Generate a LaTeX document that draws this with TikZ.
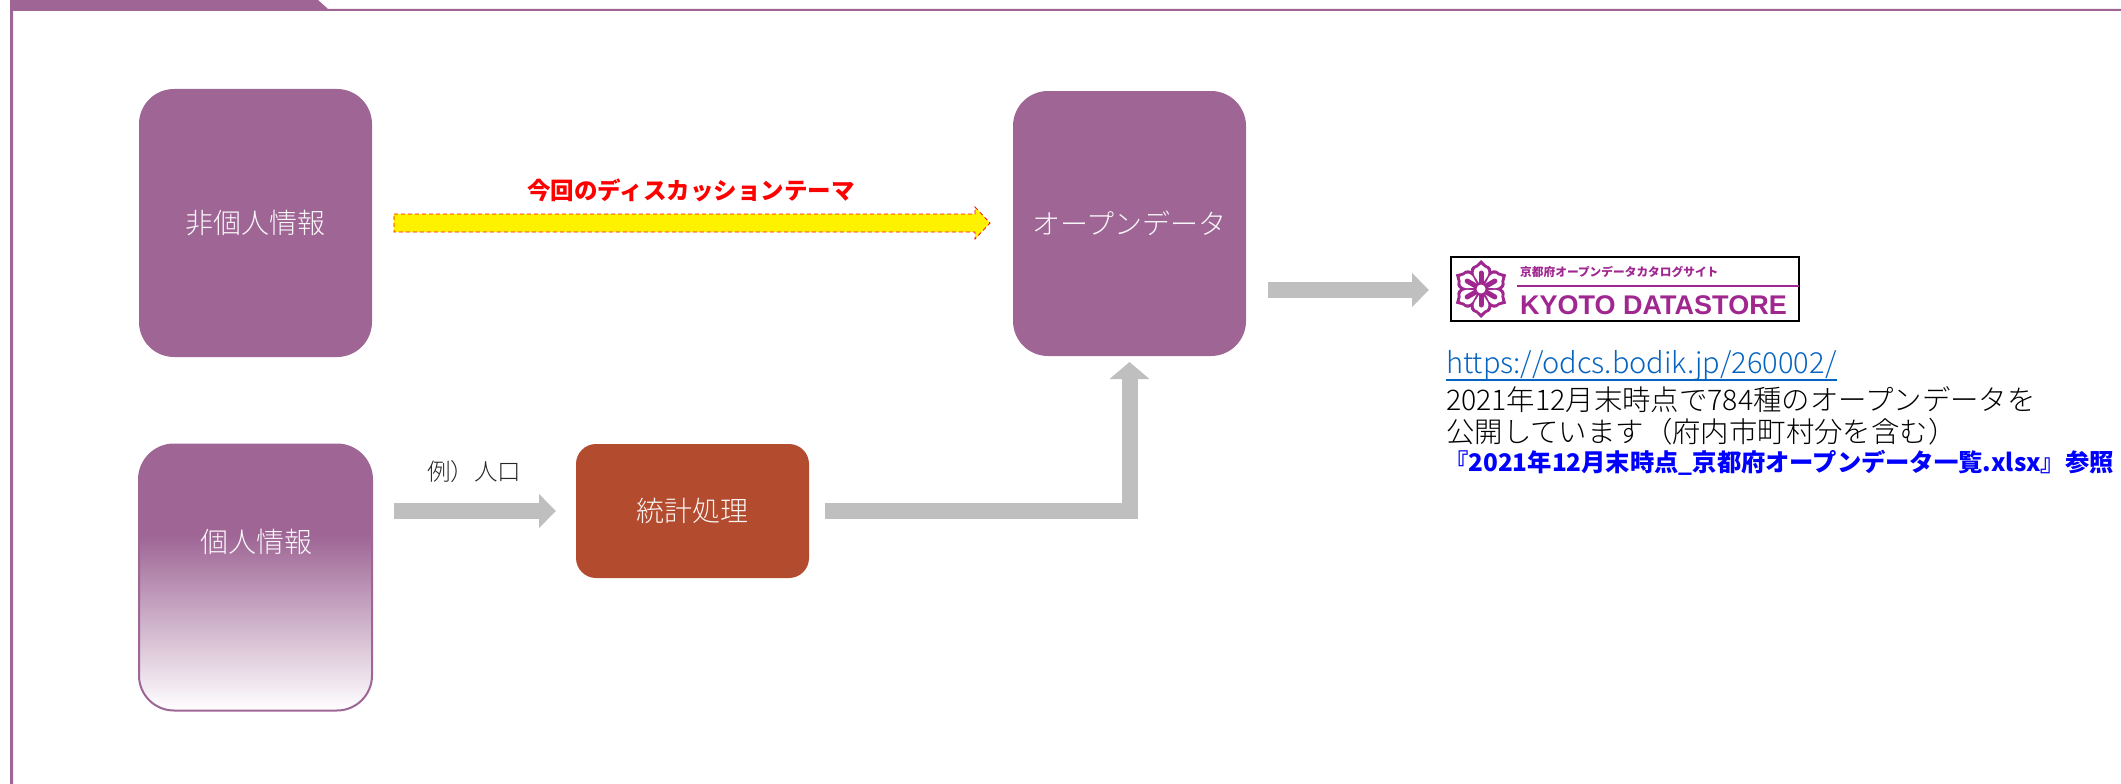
\documentclass[tikz,border=0pt]{standalone}
\usepackage{fontspec}
\usetikzlibrary{arrows.meta,calc}
\setmainfont{Noto Sans CJK JP}
\newfontfamily\jl{Noto Sans CJK JP Light}
\newfontfamily\lat{Liberation Sans}
\definecolor{plum}{HTML}{9E6595}
\definecolor{rust}{HTML}{B34B2E}
\definecolor{arrowgray}{HTML}{BFBFBF}
\definecolor{linkblue}{HTML}{0563C1}
\definecolor{logopurple}{HTML}{A0278F}
\newcommand{\fs}[1]{\fontsize{#1}{#1}\selectfont}
\pgfdeclareverticalshading{plumfade}{100bp}{color(0bp)=(white); color(25bp)=(white); color(58bp)=(plum); color(75bp)=(plum); color(100bp)=(plum)}
\tikzset{
  x=1pt,y=-1pt,
  bigbox/.style={rounded corners=35,minimum width=233,minimum height=267,inner sep=0,outer sep=0,text=white!94!plum,font=\jl\fs{28}},
  gray arrow/.style={draw=arrowgray,line width=16,-{Triangle[length=17,width=33]}},
  thin text/.style={inner sep=0,anchor=west,font=\jl\fs{28.4},text=black},
}
\begin{document}
\begin{tikzpicture}
\useasboundingbox (0,0) rectangle (2121,784);
% frame
\fill[plum] (10,0) -- (318,0) -- (328,9) -- (2121,9) -- (2121,11) -- (13,11) -- (13,784) -- (10,784) -- cycle;
% boxes
\node[bigbox,fill=plum,minimum height=268] (nonpersonal) at (255.5,223) {非個人情報};
\node[bigbox,shading=plumfade,draw=plum,line width=2,minimum height=266] (personal) at (255.5,577.5) {};
\node[inner sep=0,text=white!94!plum,font=\jl\fs{28}] (personallabel) at (256,542) {個人情報};
\node[bigbox,fill=plum,minimum height=265] (opendata) at (1129.5,223.5) {オープンデータ};
\node[rounded corners=20,minimum width=233,minimum height=134,inner sep=0,outer sep=0,fill=rust,text=white!94!rust,font=\jl\fs{28}] (stats) at (692.5,511) {統計処理};
% logo
\node[draw=black,line width=1.5,fill=white,minimum width=348,minimum height=64,inner sep=0,outer sep=0] (logo) at (1625,289) {};
\begin{scope}[shift={(1481,289)}]
  \foreach \a in {30,90,...,330}{
    \begin{scope}[rotate=\a,x=1pt,y=1pt]
      \fill[logopurple] (0,0) -- (14,9) .. controls (18,12) and (23,10) .. (24,5) -- (29,0) -- (24,-5) .. controls (23,-10) and (18,-12) .. (14,-9) -- cycle;
    \end{scope}
  }
  \foreach \a in {30,90,...,330}{
    \begin{scope}[rotate=\a,x=1pt,y=1pt]
      \fill[white] (6,2) -- (13,6.5) .. controls (17,8.5) and (21,7) .. (21.5,3.5) -- (24.5,0) -- (21.5,-3.5) .. controls (21,-7) and (17,-8.5) .. (13,-6.5) -- (6,-2) -- cycle;
      \draw[logopurple,line width=5,line cap=round] (4,0) -- (16,0);
    \end{scope}
  }
  \fill[white] (0,0) circle (4.5);
\end{scope}
\node[inner sep=0,anchor=west,text=logopurple,font=\bfseries\fs{11.7}] (logojp) at (1520,272) {京都府オープンデータカタログサイト};
\draw[logopurple,line width=2] (1517,286) -- (logo.east |- 0,286);
\node[inner sep=0,anchor=west,text=logopurple,font=\lat\bfseries\fs{27}] (logoen) at (1520,305) {KYOTO DATASTORE};
% arrows
\fill[yellow,draw=red,dash pattern=on 4pt off 3pt,line width=0.8] let \p1=(nonpersonal.east),\p2=(opendata.west) in
  (\x1+22,214) -- (\x2-38,214) -- (\x2-38,207) -- (\x2-23,223) -- (\x2-38,239) -- (\x2-38,232) -- (\x1+22,232) -- cycle;
\draw[gray arrow,shorten <=22,shorten >=20] (personal.east |- stats.west) -- (stats.west);
\draw[gray arrow,shorten <=16,shorten >=6,-{Triangle[length=17,width=39]}] (stats.east) -| (opendata.south);
\draw[gray arrow,shorten <=22,shorten >=22] (opendata.east |- 0,290) -- (logo.west |- 0,290);
% labels
\node[inner sep=0,text=red,font=\bfseries\fs{23.5}] (theme) at (691,190) {今回のディスカッションテーマ};
\node[inner sep=0,text=black!85,font=\jl\fs{23.5}] (example) at (474,472) {例）人口};
\node[thin text,text=linkblue,font=\jl\fs{29}] (url) at (1446,366) {https://odcs.bodik.jp/260002/};
\draw[linkblue,line width=1.2] (url.west |- 0,380) -- (url.east |- 0,380);
\node[thin text] (line1) at (1446,400) {2021年12月末時点で784種のオープンデータを};
\node[thin text] (line2) at (1446,432) {公開しています（府内市町村分を含む）};
\node[inner sep=0,anchor=west,text=blue,font=\bfseries\fs{24.3}] (line3) at (1444,463) {『2021年12月末時点\_京都府オープンデータ一覧.xlsx』参照};
\end{tikzpicture}
\end{document}
